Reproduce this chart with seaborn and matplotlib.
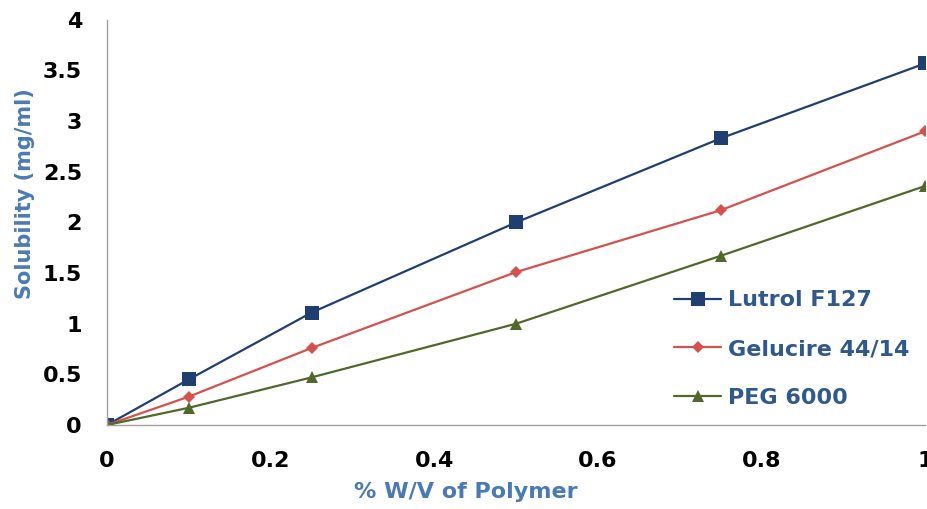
import numpy as np
import pandas as pd
import seaborn as sns
import matplotlib.pyplot as plt

# data
conc = [0, 0.1, 0.25, 0.5, 0.75, 1.0]
lutrol = [0, 0.45, 1.11, 2.0, 2.83, 3.57]
gelucire = [0, 0.28, 0.76, 1.51, 2.12, 2.90]
peg = [0, 0.17, 0.47, 1.0, 1.67, 2.36]
names = ["Lutrol F127", "Gelucire 44/14", "PEG 6000"]

df = pd.DataFrame({
    "conc": conc * 3,
    "sol": lutrol + gelucire + peg,
    "polymer": [names[0]] * 6 + [names[1]] * 6 + [names[2]] * 6,
})

sns.set_style("white")
plt.rcParams["font.family"] = ["DejaVu Sans"]

fig = plt.figure(figsize=(9.27, 5.09), dpi=100)
ax = fig.add_axes([0.1154, 0.165, 0.8826, 0.796])

colors = {names[0]: "#1F3F72", names[1]: "#D6504D", names[2]: "#4F6A28"}
markers = {names[0]: "s", names[1]: "D", names[2]: "^"}
sizes = {names[0]: 10, names[1]: 6.5, names[2]: 9}

for n in names:
    sub = df[df["polymer"] == n]
    sns.lineplot(data=sub, x="conc", y="sol", ax=ax, color=colors[n],
                 marker=markers[n], markersize=sizes[n], markeredgewidth=0,
                 linewidth=1.6, label=n)

ax.set_xlim(0, 1)
ax.set_ylim(0, 4)
ax.set_xticks([0, 0.2, 0.4, 0.6, 0.8, 1])
ax.set_xticklabels(["0", "0.2", "0.4", "0.6", "0.8", "1"])
ax.set_yticks([0, 0.5, 1, 1.5, 2, 2.5, 3, 3.5, 4])
ax.set_yticklabels(["0", "0.5", "1", "1.5", "2", "2.5", "3", "3.5", "4"])

for s in ["top", "right"]:
    ax.spines[s].set_visible(False)
for s in ["left", "bottom"]:
    ax.spines[s].set_color("#A0A0A0")
    ax.spines[s].set_linewidth(1.0)

ax.tick_params(axis="both", direction="out", length=7, width=1, color="#A0A0A0",
               labelsize=16, labelcolor="black")
ax.tick_params(axis="x", pad=12)
ax.tick_params(axis="y", pad=11)
for t in ax.get_xticklabels() + ax.get_yticklabels():
    t.set_fontweight("bold")

ax.set_xlabel("% W/V of Polymer", fontsize=16, fontweight="bold", color="#4A7AB5")
ax.xaxis.set_label_coords(0.439, -0.14)
ax.set_ylabel("Solubility (mg/ml)", fontsize=15, fontweight="bold", color="#4A7AB5")
ax.yaxis.set_label_coords(-0.088, 0.57)

leg = ax.legend(loc="center left", bbox_to_anchor=(0.718, 0.314), bbox_transform=fig.transFigure,
                frameon=False, fontsize=16, labelspacing=1.3, handlelength=2.1,
                handletextpad=0.3, borderaxespad=0)
for t in leg.get_texts():
    t.set_color("#2F5890")
    t.set_fontweight("bold")

fig.savefig("out.png", dpi=100)
